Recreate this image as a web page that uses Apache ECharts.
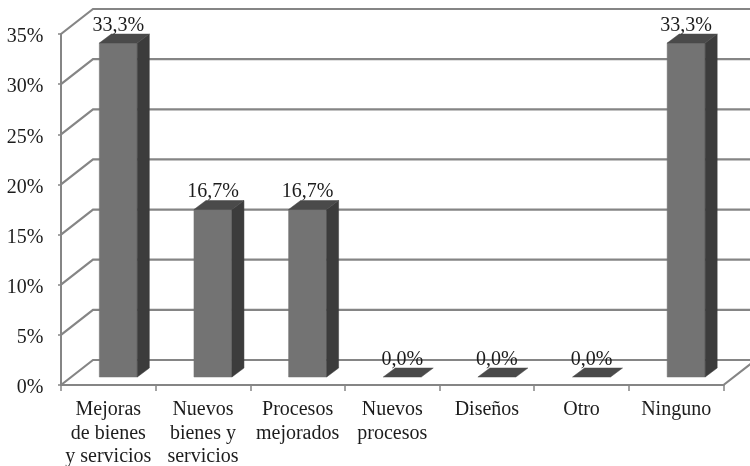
<!DOCTYPE html>
<html>
<head>
<meta charset="utf-8">
<style>html,body{margin:0;padding:0;background:#fff}#c{width:750px;height:466px}</style>
<script src="https://cdn.jsdelivr.net/npm/echarts@6/dist/echarts.min.js"></script>
</head>
<body>
<div id="c"></div>
<script>
var categories = ['Mejoras\nde bienes\ny servicios', 'Nuevos\nbienes y\nservicios', 'Procesos\nmejorados', 'Nuevos\nprocesos', 'Diseños', 'Otro', 'Ninguno'];
var values = [33.3, 16.7, 16.7, 0, 0, 0, 33.3];
var valueLabels = ['33,3%', '16,7%', '16,7%', '0,0%', '0,0%', '0,0%', '33,3%'];
var yTicks = [0, 5, 10, 15, 20, 25, 30, 35];

var FONT = '"Liberation Serif", "Times New Roman", serif';
var TEXT = '#1c1c1c';
var LINE = '#858585';
var WALL_DX = 32, WALL_DY = 25;
var BAR_W = 38, BAR_DX = 12, BAR_DY = 9, BAR_SHIFT_X = 10, BAR_SHIFT_Y = 8;

function poly(pts, fill) {
  return { type: 'polygon', shape: { points: pts }, style: { fill: fill, stroke: fill, lineWidth: 0.5 } };
}

function renderWall(params, api) {
  var p = api.coord([0, api.value(0)]);
  var band = api.size([1, 0])[0];
  var x0 = p[0] - band / 2, y = p[1];
  var xEnd = x0 + band * categories.length;
  var pts = [[x0, y], [x0 + WALL_DX, y - WALL_DY], [xEnd + WALL_DX, y - WALL_DY]];
  if (api.value(0) === 0) {
    pts = pts.concat([[xEnd, y]]);
  }
  return { type: 'polyline', shape: { points: pts }, style: { fill: 'none', stroke: LINE, lineWidth: 2.2 } };
}

function renderBar(params, api) {
  var idx = api.value(0), v = api.value(1);
  var base = api.coord([idx, 0]), top = api.coord([idx, v]);
  var cx = base[0] + BAR_SHIFT_X;
  var l = cx - BAR_W / 2, r = cx + BAR_W / 2;
  var yb = base[1] - BAR_SHIFT_Y, yt = top[1] - BAR_SHIFT_Y;
  var children = [];
  if (v > 0) {
    children.push(poly([[l, yt], [r, yt], [r, yb], [l, yb]], '#737373'));
    children.push(poly([[r, yt], [r + BAR_DX, yt - BAR_DY], [r + BAR_DX, yb - BAR_DY], [r, yb]], '#3c3c3c'));
  }
  children.push(poly([[l, yt], [l + BAR_DX, yt - BAR_DY], [r + BAR_DX, yt - BAR_DY], [r, yt]], '#4a4a4a'));
  children.push({
    type: 'text', z2: 10,
    style: {
      x: cx, y: yt - BAR_DY - 8.5, text: valueLabels[params.dataIndex],
      fill: TEXT, font: '20px ' + FONT, align: 'center', verticalAlign: 'middle'
    }
  });
  return { type: 'group', children: children };
}

var chart = echarts.init(document.getElementById('c'), null, { renderer: 'canvas' });
chart.setOption({
  animation: false,
  backgroundColor: '#ffffff',
  grid: { left: 61, right: 26.5, top: 34, bottom: 81, containLabel: false, outerBoundsMode: 'none' },
  xAxis: {
    type: 'category', data: categories,
    axisLine: { show: true, lineStyle: { color: LINE, width: 2 } },
    axisTick: { show: true, length: 6, lineStyle: { color: LINE, width: 1.5 } },
    axisLabel: { interval: 0, margin: 13, color: TEXT, fontFamily: FONT, fontSize: 20, lineHeight: 23.5 }
  },
  yAxis: {
    type: 'value', min: 0, max: 35, interval: 5,
    splitLine: { show: false },
    axisLine: { show: true, lineStyle: { color: LINE, width: 2 } },
    axisTick: { show: true, length: 3, lineStyle: { color: LINE, width: 1.5 } },
    axisLabel: { formatter: '{value}%', margin: 17.5, verticalAlign: 'top', lineHeight: 6, color: TEXT, fontFamily: FONT, fontSize: 20 }
  },
  series: [
    { type: 'custom', name: 'wall', coordinateSystem: 'cartesian2d', clip: false, silent: true, z: 1,
      data: yTicks.map(function (t) { return [t]; }), encode: { y: 0 }, renderItem: renderWall },
    { type: 'custom', name: 'bars', coordinateSystem: 'cartesian2d', clip: false, silent: true, z: 3,
      data: values.map(function (v, i) { return [i, v]; }), encode: { x: 0, y: 1 }, renderItem: renderBar }
  ]
});
</script>
</body>
</html>
